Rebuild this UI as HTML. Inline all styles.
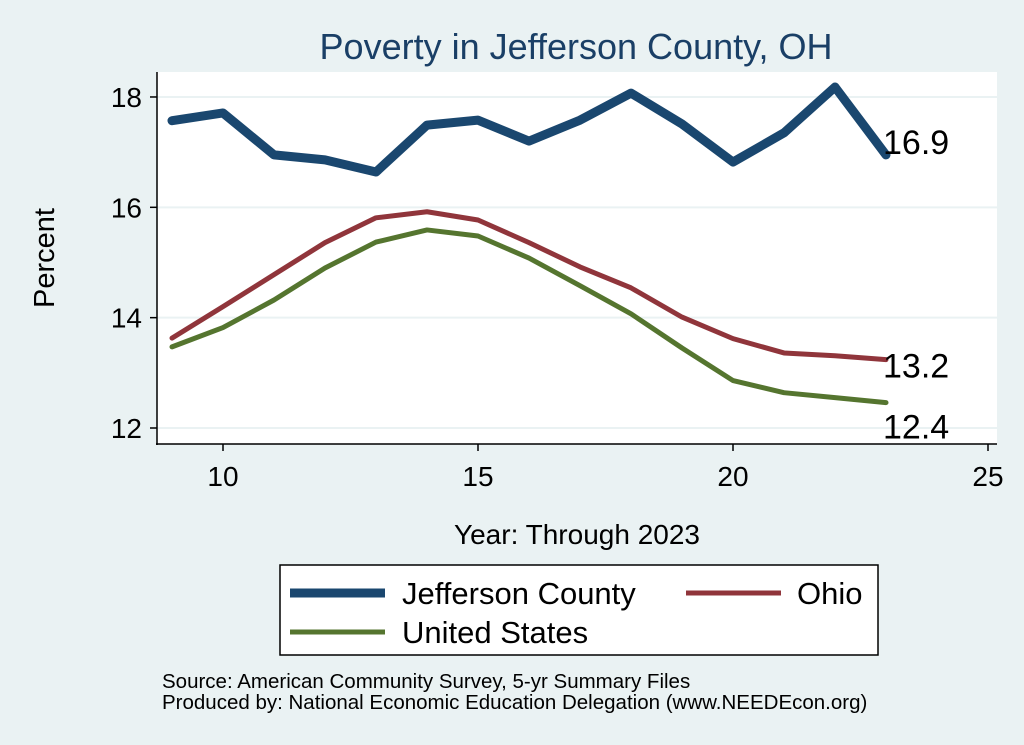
<!DOCTYPE html>
<html><head><meta charset="utf-8"><style>
html,body{margin:0;padding:0;background:#eaf2f3;}
svg{display:block;font-family:"Liberation Sans",Arial,sans-serif;}
</style></head><body>
<svg id="chart" width="1024" height="745" viewBox="0 0 1024 745">
<rect x="0" y="0" width="1024" height="745" fill="#eaf2f3"/>
<rect x="157" y="72" width="840" height="372" fill="#ffffff"/>
<text x="576" y="59" text-anchor="middle" font-size="36" fill="#1a3f66">Poverty in Jefferson County, OH</text>
<g id="grid"></g><g id="axes"></g><g id="series"></g>
<text transform="translate(54,258) rotate(-90)" text-anchor="middle" font-size="29" fill="#000">Percent</text>
<text x="577" y="544" text-anchor="middle" font-size="28" fill="#000">Year: Through 2023</text>
<g>
<rect x="280" y="565" width="598" height="90" fill="#fff" stroke="#000" stroke-width="1.5"/>
<line x1="290" y1="593" x2="385" y2="593" stroke="#1a476f" stroke-width="9"/>
<text x="402" y="604" font-size="31">Jefferson County</text>
<line x1="686" y1="593" x2="781" y2="593" stroke="#90353b" stroke-width="5"/>
<text x="797" y="604" font-size="31">Ohio</text>
<line x1="290" y1="632" x2="385" y2="632" stroke="#55752f" stroke-width="5"/>
<text x="402" y="643" font-size="31">United States</text>
</g>
<text x="162" y="688" font-size="20.5">Source: American Community Survey, 5-yr Summary Files</text>
<text x="162" y="709" font-size="20.5">Produced by: National Economic Education Delegation (www.NEEDEcon.org)</text>
</svg>
<script>
const years=[9,10,11,12,13,14,15,16,17,18,19,20,21,22,23];
const jefferson=[17.57,17.71,16.95,16.86,16.64,17.49,17.58,17.2,17.58,18.07,17.51,16.82,17.35,18.18,16.95];
const ohio=[13.63,14.2,14.78,15.36,15.81,15.92,15.77,15.36,14.92,14.54,14.01,13.62,13.36,13.31,13.24];
const us=[13.47,13.82,14.32,14.9,15.37,15.59,15.48,15.08,14.58,14.07,13.45,12.86,12.64,12.55,12.46];
const xTicks=[10,15,20,25];
const yTicks=[12,14,16,18];
const endLabels=["16.9","13.2","12.4"];
const NS="http://www.w3.org/2000/svg";
function sx(v){return 223+(v-10)*51;}
function sy(v){return 428-(v-12)*55.17;}
function mk(tag,attrs,parent){const e=document.createElementNS(NS,tag);for(const k in attrs)e.setAttribute(k,attrs[k]);parent.appendChild(e);return e;}
const grid=document.getElementById('grid'),axes=document.getElementById('axes'),ser=document.getElementById('series');
yTicks.forEach(t=>{
 const g=mk('line',{x1:157,x2:997,y1:sy(t),y2:sy(t),stroke:'#eaf2f3','stroke-width':2},grid);
 
 
 const tk=mk('line',{x1:150,x2:157,y1:sy(t),y2:sy(t),stroke:'#000','stroke-width':1.5},axes);
 
 
 const tx=mk('text',{x:142,y:sy(t)+10,'text-anchor':'end','font-size':28},axes);
 tx.textContent=t;
 
 
});
xTicks.forEach(t=>{
 const tk=mk('line',{x1:sx(t),x2:sx(t),y1:444,y2:451,stroke:'#000','stroke-width':1.5},axes);
 
 
 const tx=mk('text',{x:sx(t),y:486,'text-anchor':'middle','font-size':28},axes);
 tx.textContent=t;
 
 
});
const ya=mk('line',{x1:157,x2:157,y1:72,y2:445,stroke:'#000','stroke-width':1.5},axes);


const xa=mk('line',{x1:156,x2:997,y1:444,y2:444,stroke:'#000','stroke-width':1.5},axes);


const series=[[jefferson,'#1a476f',9,'line-jefferson',-13],[ohio,'#90353b',5,'line-ohio',6],[us,'#55752f',5,'line-us',24]];
series.forEach((s,i)=>{
 const pts=years.map((y,j)=>sx(y)+','+sy(s[0][j])).join(' ');
 const p=mk('polyline',{points:pts,fill:'none',stroke:s[1],'stroke-width':s[2],'stroke-linejoin':'round','stroke-linecap':'round'},ser);
 
 
 const last=s[0][s[0].length-1];
 const t=mk('text',{x:sx(years[years.length-1])-3,y:sy(last)+s[4]+12,'font-size':34},ser);
 t.textContent=endLabels[i];
 
 
});
</script>
</body></html>
